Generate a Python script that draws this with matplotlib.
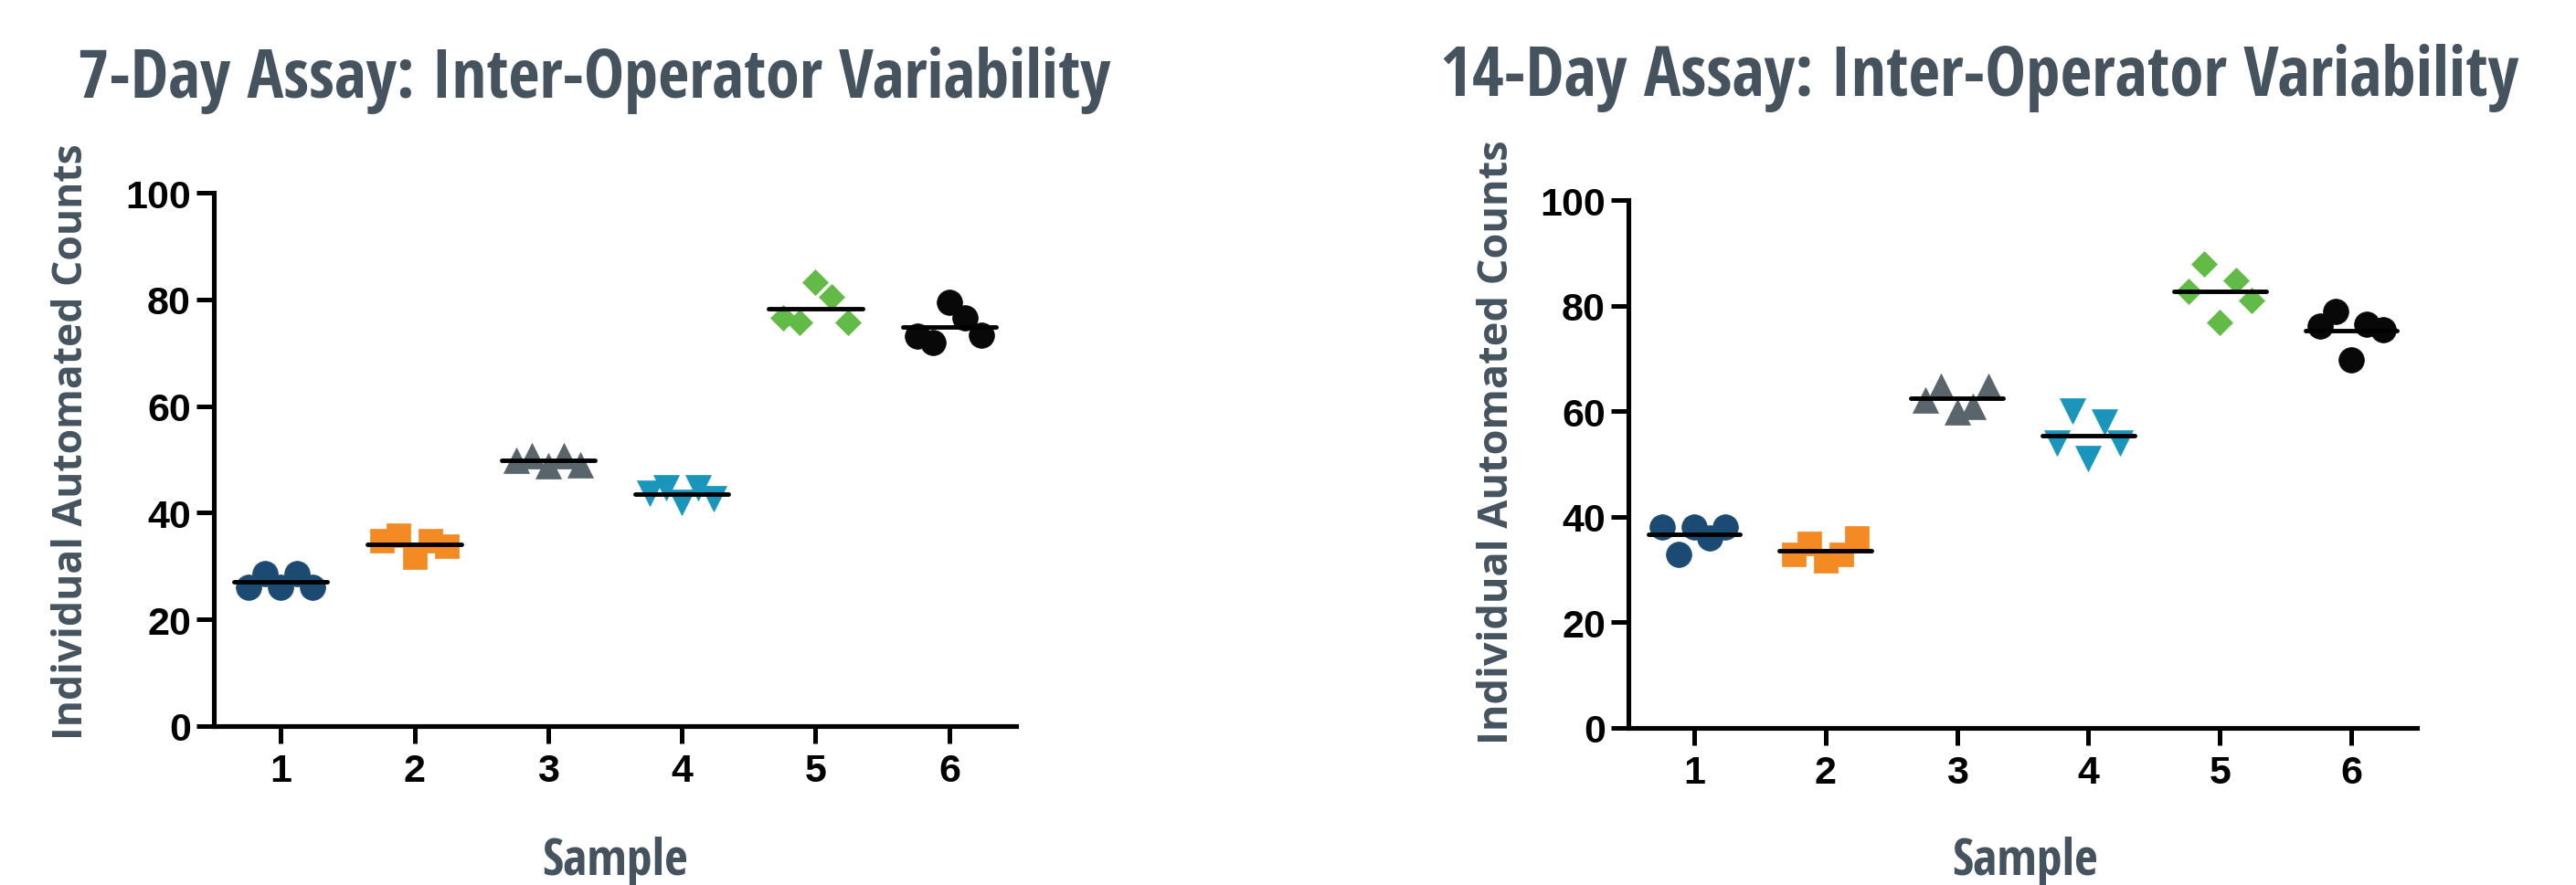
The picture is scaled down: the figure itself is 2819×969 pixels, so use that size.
import numpy as np
import matplotlib
matplotlib.use("Agg")
import matplotlib.pyplot as plt
from matplotlib import font_manager as fm
from matplotlib.font_manager import FontProperties

# ---------------- data ----------------
samples = [1, 2, 3, 4, 5, 6]
tick_labels = ["1", "2", "3", "4", "5", "6"]
y_ticks = [0, 20, 40, 60, 80, 100]

# 7-day assay: individual automated counts per operator
d7_s1 = [26.0, 28.6, 26.0, 28.6, 26.0]
d7_s2 = [34.7, 35.8, 31.7, 34.7, 33.7]
d7_s3 = [49.9, 50.6, 48.8, 50.6, 48.9]
d7_s4 = [43.7, 44.7, 41.9, 44.7, 42.7]
d7_s5 = [76.6, 75.6, 83.2, 80.5, 75.6]
d7_s6 = [73.2, 72.0, 79.4, 76.5, 73.3]

# 14-day assay
d14_s1 = [38.1, 32.8, 38.1, 36.0, 38.1]
d14_s2 = [32.8, 34.9, 31.7, 32.8, 36.0]
d14_s3 = [62.1, 64.7, 59.9, 60.9, 64.7]
d14_s4 = [54.0, 60.0, 51.0, 58.0, 54.0]
d14_s5 = [82.7, 87.9, 76.8, 84.8, 81.0]
d14_s6 = [76.1, 78.9, 69.7, 76.5, 75.5]

titles = ["7-Day Assay: Inter-Operator Variability",
          "14-Day Assay: Inter-Operator Variability"]
ylabel = "Individual Automated Counts"
xlabel = "Sample"

# ---------------- style ----------------
colors = ["#1b4a72", "#f48a23", "#59656b", "#1a95bb", "#62bb47", "#080808"]
markers = ["o", "s", "^", "v", "D", "o"]
msizes = [20, 18.5, 20, 20, 14.5, 20]
text_color = "#44535e"

W, H = 2819, 970
fig = plt.figure(figsize=(W / 100, H / 100), dpi=100)

# fonts
files = [f.fname for f in fm.fontManager.ttflist]
def find_font(keys):
    for k in keys:
        for fn in files:
            if k in fn.lower().replace("_", "").replace("-", ""):
                return fn
    return None

cond_file = find_font(["opensanscondensedbold", "opensanscondbold",
                       "liberationsansnarrowbold", "dejavusanscondensedbold",
                       "robotocondensedbold"])
if cond_file:
    cond_fp = FontProperties(fname=cond_file)
else:
    cond_fp = FontProperties(family="Open Sans", weight="bold")
label_fp = FontProperties(family="Open Sans", weight="bold")

narrow_file = find_font(["liberationsansnarrowbold", "arialnarrowbold"])
if narrow_file:
    tick_fp = FontProperties(fname=narrow_file, size=32)
else:
    tick_fp = FontProperties(family="Liberation Sans", weight="bold", size=31)

renderer = fig.canvas.get_renderer()

def fit(t, target_px, vertical=False):
    bb = t.get_window_extent(renderer)
    w = bb.height if vertical else bb.width
    t.set_fontsize(t.get_fontsize() * target_px / w)

def px(x, y):
    return x / W, 1 - y / H

panels = [
    dict(data=[d7_s1, d7_s2, d7_s3, d7_s4, d7_s5, d7_s6],
         rect=(234, 212, 1112, 796), title_xy=(85, 107), title_w=1130,
         ylab_x=79, ylab_len=653, xlab_x=673),
    dict(data=[d14_s1, d14_s2, d14_s3, d14_s4, d14_s5, d14_s6],
         rect=(1782, 220, 2645, 798), title_xy=(1576, 105), title_w=1179,
         ylab_x=1638, ylab_len=662, xlab_x=2216),
]

offsets = np.linspace(-0.24, 0.24, 5)

for k, p in enumerate(panels):
    x0, y0, x1, y1 = p["rect"]
    ax = fig.add_axes([x0 / W, 1 - y1 / H, (x1 - x0) / W, (y1 - y0) / H])
    for i, vals in enumerate(p["data"]):
        xs = samples[i] + offsets[: len(vals)]
        ax.plot(xs, vals, ls="none", marker=markers[i], ms=msizes[i],
                mfc=colors[i], mec=colors[i], mew=0.5, zorder=2, clip_on=False)
        lc = ax.hlines(np.mean(vals), samples[i] - 0.35, samples[i] + 0.35,
                       color="black", lw=3.5, zorder=3)
        lc.set_capstyle("round")
    ax.set_xlim(0.5, 6.5)
    ax.set_ylim(0, 100)
    ax.set_xticks(samples)
    ax.set_xticklabels(tick_labels)
    ax.set_yticks(y_ticks)
    ax.set_yticklabels([str(v) for v in y_ticks])
    for s in ["top", "right"]:
        ax.spines[s].set_visible(False)
    for s in ["left", "bottom"]:
        ax.spines[s].set_linewidth(3.7)
        ax.spines[s].set_color("black")
        ax.spines[s].set_capstyle("projecting")
    ax.tick_params(axis="both", direction="out", length=14, width=3.6,
                   color="black", labelcolor="black")
    ax.tick_params(axis="y", pad=4)
    ax.tick_params(axis="x", pad=7)
    for lbl in ax.get_xticklabels() + ax.get_yticklabels():
        lbl.set_fontproperties(tick_fp)
    ax.patch.set_alpha(0)

    # title
    tx, ty = p["title_xy"]
    t = fig.text(*px(tx, ty), titles[k], ha="left", va="baseline",
                 color=text_color, fontproperties=cond_fp, fontsize=40)
    fit(t, p["title_w"])
    # y label
    yl = fig.text(*px(p["ylab_x"], 484), ylabel, rotation=90, ha="center",
                  va="center", color=text_color, fontproperties=label_fp,
                  fontsize=30)
    fit(yl, p["ylab_len"], vertical=True)
    # x label
    xl = fig.text(*px(p["xlab_x"], 958), xlabel, ha="center", va="baseline",
                  color=text_color, fontproperties=cond_fp, fontsize=30)
    fit(xl, 160)

fig.savefig("out.png", dpi=100, facecolor="white")
